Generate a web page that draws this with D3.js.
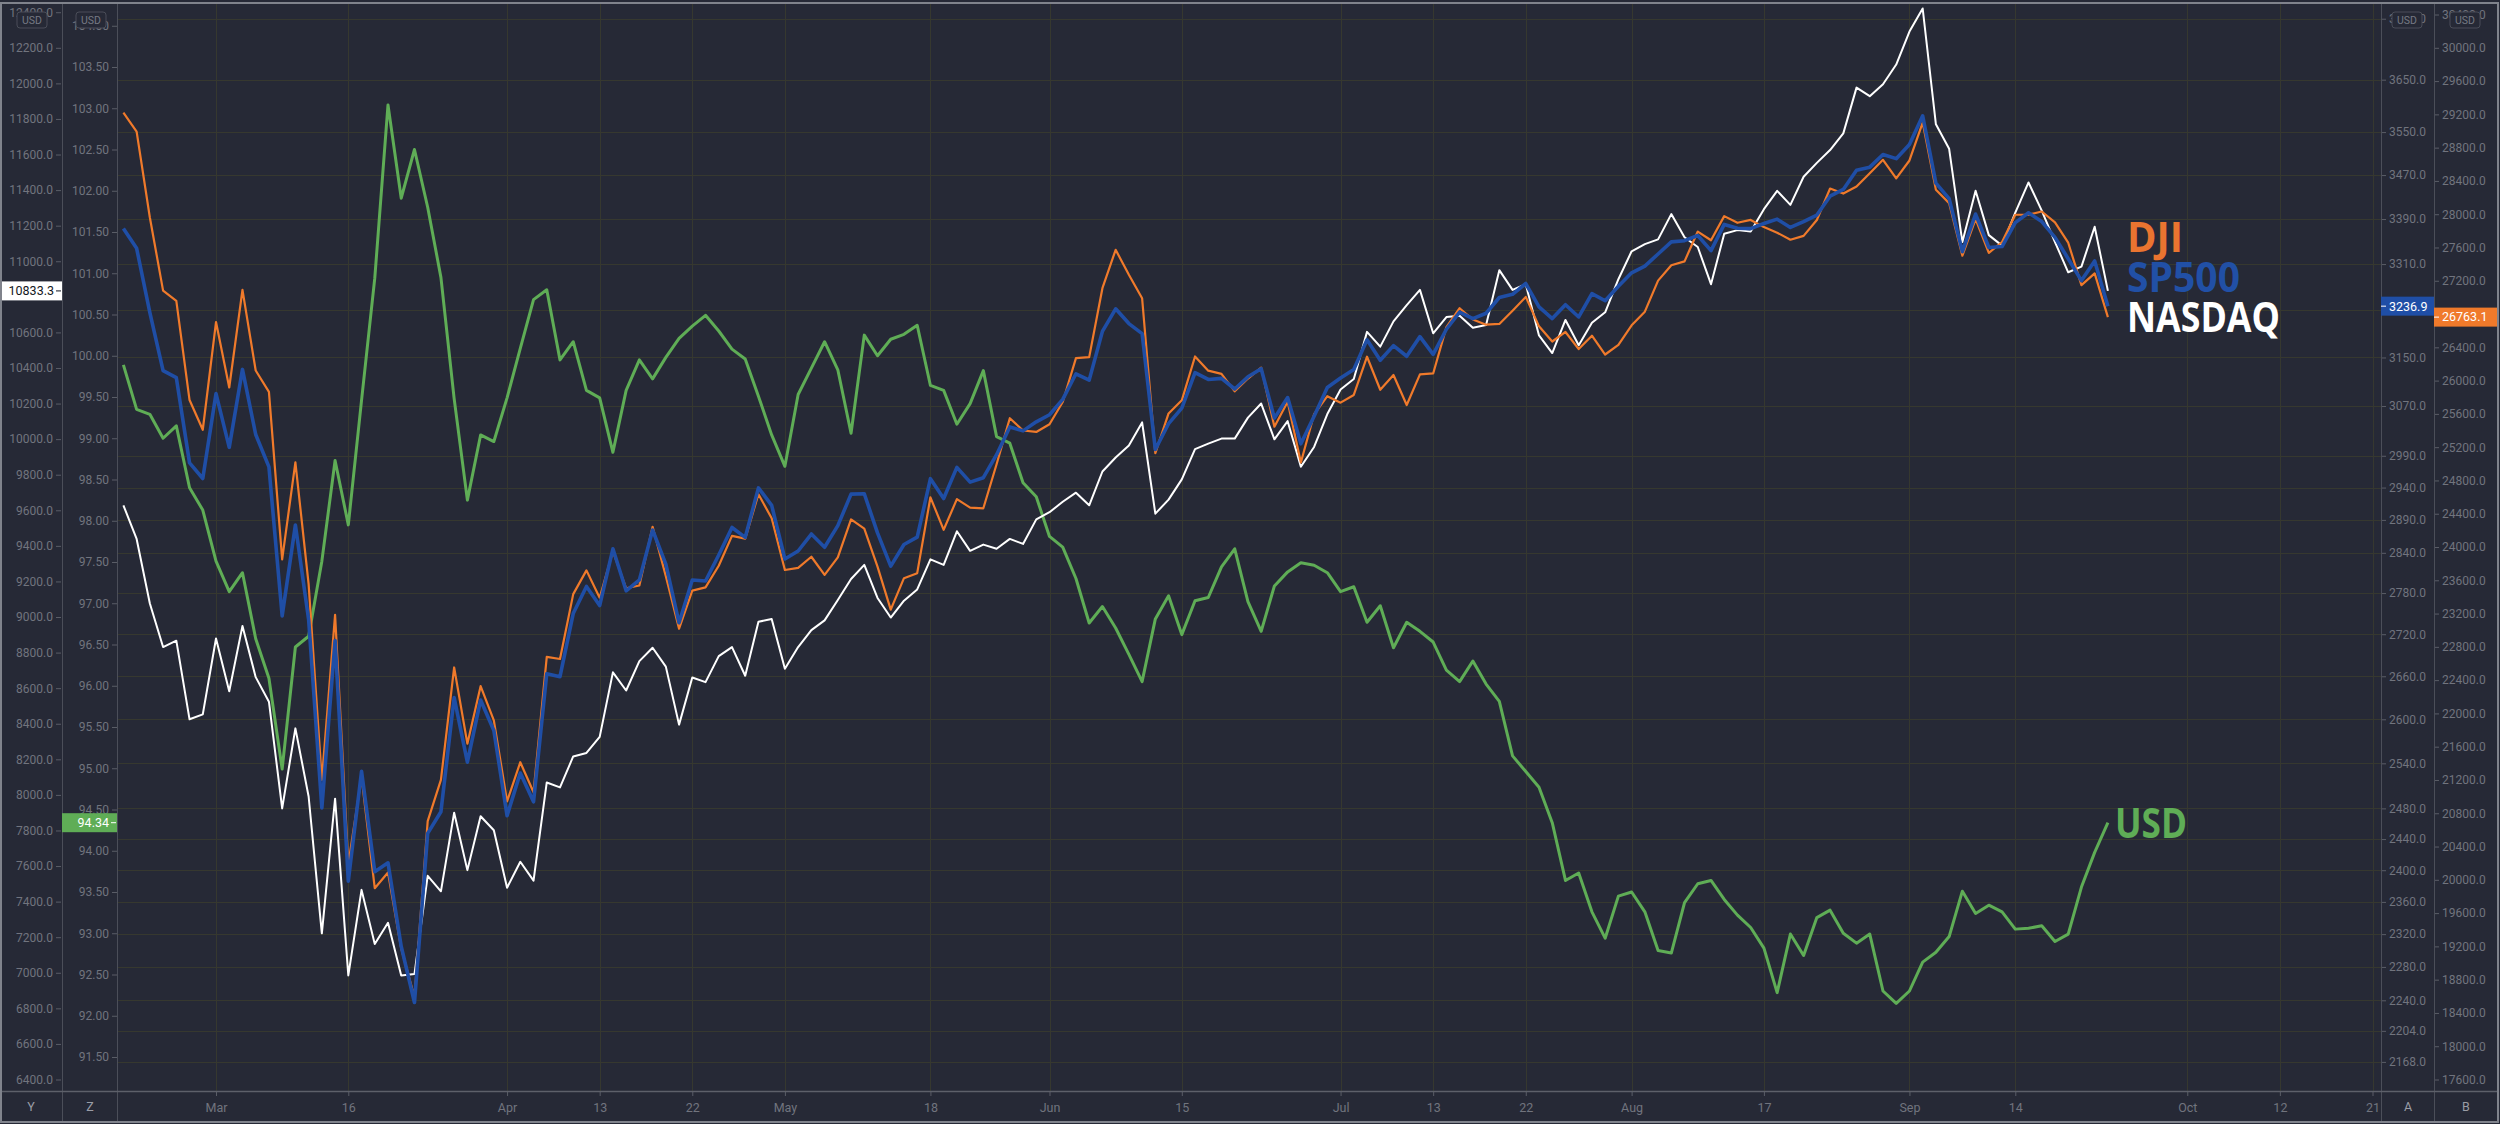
<!DOCTYPE html>
<html>
<head>
<meta charset="utf-8">
<script src="https://cdn.jsdelivr.net/npm/d3@7"></script>
<style>
  html, body { margin: 0; padding: 0; background: #262936; }
  svg { display: block; }
  .ax text { font-family: Roboto, "Liberation Sans", sans-serif; font-size: 12px; fill: #71747e; }
  .ax line { stroke: #5a5d67; }
  .ax path { display: none; }
</style>
</head>
<body>
<svg id="chart" width="2500" height="1124"></svg>
<script>
// --- data : daily closes, 20 Feb -> 23 Sep 2020 (trading days) ---
const dji = [29219.98, 28992.41, 27960.80, 27081.36, 26957.59, 25766.64, 25409.36,
  26703.32, 25917.41, 27090.86, 26121.28, 25864.78, 23851.02, 25018.16, 23553.22, 21200.62, 23185.62, 20188.52, 21237.38, 19898.92, 20087.19, 19173.98, 18591.93, 20704.91, 21200.55, 22552.17, 21636.78, 22327.48, 21917.16,
  20943.51, 21413.44, 21052.53, 22679.99, 22653.86, 23433.57, 23719.37, 23390.77, 23949.76, 23504.35, 23537.68, 24242.49, 23650.44, 23018.88, 23475.82, 23515.26, 23775.27, 24133.78, 24101.55, 24633.86, 24345.72,
  23723.69, 23749.76, 23883.09, 23664.64, 23875.89, 24331.32, 24221.99, 23764.78, 23247.97, 23625.34, 23685.42, 24597.37, 24206.86, 24575.90, 24474.12, 24465.16, 24995.11, 25548.27, 25400.64, 25383.11,
  25475.02, 25742.65, 26269.89, 26281.82, 27110.98, 27572.44, 27272.30, 26989.99, 25128.17, 25605.54, 25763.16, 26289.98, 26119.61, 26080.10, 25871.46, 26024.96, 26156.10, 25445.94, 25745.60, 25015.55, 25595.80, 25812.88,
  25734.97, 25827.36, 26287.03, 25890.18, 26067.28, 25706.09, 26075.30, 26085.80, 26642.59, 26870.10, 26734.71, 26671.95, 26680.87, 26840.40, 27005.84, 26652.33, 26469.89, 26584.77, 26379.28, 26539.57, 26313.65, 26428.32,
  26664.40, 26828.47, 27201.52, 27386.98, 27433.48, 27791.44, 27686.91, 27976.84, 27896.72, 27931.02, 27844.91, 27778.07, 27692.88, 27739.73, 27930.33, 28308.46, 28248.44, 28331.92, 28492.27, 28653.87, 28430.05,
  28645.66, 29100.50, 28292.73, 28133.31, 27500.89, 27940.47, 27534.58, 27665.64, 27993.33, 27995.60, 28032.38, 27901.98, 27657.42, 27147.70, 27288.18, 26763.13];

const sp500 = [3373.23, 3337.75, 3225.89, 3128.21, 3116.39, 2978.76, 2954.22,
  3090.23, 3003.37, 3130.12, 3023.94, 2972.37, 2746.56, 2882.23, 2741.38, 2480.64, 2711.02, 2386.13, 2529.19, 2398.10, 2409.39, 2304.92, 2237.40, 2447.33, 2475.56, 2630.07, 2541.47, 2626.65, 2584.59,
  2470.50, 2526.90, 2488.65, 2663.68, 2659.41, 2749.98, 2789.82, 2761.63, 2846.06, 2783.36, 2799.55, 2874.56, 2823.16, 2736.56, 2799.31, 2797.80, 2836.74, 2878.48, 2863.39, 2939.51, 2912.43,
  2830.71, 2842.74, 2868.44, 2848.42, 2881.19, 2929.80, 2930.32, 2870.12, 2820.00, 2852.50, 2863.70, 2953.91, 2922.94, 2971.61, 2948.51, 2955.45, 2991.77, 3036.13, 3029.73, 3044.31,
  3055.73, 3080.82, 3122.87, 3112.35, 3193.93, 3232.39, 3207.18, 3190.14, 2999.98, 3041.31, 3066.59, 3124.74, 3113.49, 3115.34, 3097.74, 3117.86, 3131.29, 3050.33, 3083.76, 3009.05, 3053.24, 3100.29,
  3115.86, 3130.01, 3179.72, 3145.32, 3169.94, 3152.05, 3185.04, 3155.22, 3197.52, 3226.56, 3215.57, 3224.73, 3251.84, 3257.30, 3276.02, 3235.66, 3215.63, 3239.41, 3218.44, 3258.44, 3246.22, 3271.12,
  3294.61, 3306.51, 3327.77, 3349.16, 3351.28, 3360.47, 3333.69, 3380.35, 3373.43, 3372.85, 3381.99, 3389.78, 3374.85, 3385.51, 3397.16, 3431.28, 3443.62, 3478.73, 3484.55, 3508.01, 3500.31,
  3526.65, 3580.84, 3455.06, 3426.96, 3331.84, 3398.96, 3339.19, 3340.97, 3383.54, 3401.20, 3385.49, 3357.01, 3319.47, 3281.06, 3315.57, 3236.92];

const nasdaq = [9628, 9439, 9076, 8831, 8867, 8425, 8453,
  8879, 8583, 8950, 8662, 8524, 7924, 8374, 7991, 7222, 7979, 6985, 7466, 7162, 7281, 6985, 6993, 7545, 7458, 7900, 7577, 7880, 7801,
  7478, 7624, 7518, 8070, 8042, 8216, 8236, 8326, 8689, 8587, 8752, 8827, 8721, 8395, 8660, 8634, 8780, 8831, 8670, 8973, 8989,
  8709, 8831, 8926, 8981, 9096, 9214, 9293, 9107, 8997, 9092, 9155, 9324, 9293, 9482, 9372, 9407, 9384, 9439, 9411, 9549,
  9589, 9648, 9699, 9628, 9818, 9897, 9964, 10094, 9581, 9660, 9774, 9944, 9975, 10003, 10003, 10121, 10200, 9999, 10101, 9845, 9956, 10141,
  10279, 10338, 10603, 10520, 10662, 10753, 10839, 10595, 10686, 10693, 10626, 10642, 10950, 10839, 10871, 10583, 10484, 10670, 10528, 10654, 10713, 10899,
  11056, 11096, 11123, 11265, 11135, 11080, 10871, 11155, 11175, 11167, 11293, 11396, 11317, 11475, 11553, 11625, 11719, 11976, 11928, 11995, 12106,
  12291, 12421, 11770, 11632, 11108, 11396, 11147, 11088, 11273, 11443, 11285, 11108, 10938, 10970, 11194, 10833.3];

const usd = [99.89, 99.35, 99.29, 99.00, 99.15, 98.40, 98.13,
  97.51, 97.14, 97.37, 96.57, 96.09, 94.99, 96.47, 96.60, 97.51, 98.73, 97.95, 99.46, 100.94, 103.04, 101.91, 102.50, 101.80, 100.95, 99.48, 98.25, 99.04, 98.96,
  99.49, 100.09, 100.68, 100.80, 99.95, 100.17, 99.58, 99.49, 98.83, 99.58, 99.95, 99.72, 99.98, 100.21, 100.36, 100.49, 100.30, 100.08, 99.96, 99.51, 99.04,
  98.66, 99.53, 99.85, 100.17, 99.83, 99.06, 100.25, 100.00, 100.20, 100.26, 100.37, 99.64, 99.58, 99.17, 99.42, 99.82, 99.02, 98.94, 98.46, 98.29,
  97.81, 97.68, 97.30, 96.76, 96.96, 96.70, 96.38, 96.05, 96.81, 97.09, 96.62, 97.03, 97.07, 97.44, 97.66, 97.02, 96.66, 97.21, 97.38, 97.49, 97.46, 97.37,
  97.14, 97.20, 96.77, 96.97, 96.46, 96.77, 96.66, 96.53, 96.19, 96.05, 96.30, 96.02, 95.81, 95.15, 94.96, 94.77, 94.34, 93.64, 93.73, 93.26, 92.94, 93.45,
  93.50, 93.26, 92.79, 92.76, 93.37, 93.60, 93.64, 93.41, 93.22, 93.07, 92.82, 92.28, 92.99, 92.73, 93.19, 93.28, 93.00, 92.88, 92.99, 92.30, 92.15,
  92.30, 92.65, 92.77, 92.96, 93.51, 93.24, 93.34, 93.26, 93.05, 93.06, 93.09, 92.90, 92.99, 93.56, 93.98, 94.34];

// tick labels
const nasdaqTicks = [6400, 6600, 6800, 7000, 7200, 7400, 7600, 7800, 8000, 8200, 8400, 8600, 8800, 9000, 9200, 9400, 9600, 9800,
  10000, 10200, 10400, 10600, 10800, 11000, 11200, 11400, 11600, 11800, 12000, 12200, 12400];
const usdTicks = [91.5, 92, 92.5, 93, 93.5, 94, 94.5, 95, 95.5, 96, 96.5, 97, 97.5, 98, 98.5, 99, 99.5, 100, 100.5, 101, 101.5,
  102, 102.5, 103, 103.5, 104];
const spTicks = [2168, 2204, 2240, 2280, 2320, 2360, 2400, 2440, 2480, 2540, 2600, 2660, 2720, 2780, 2840, 2890, 2940, 2990,
  3070, 3150, 3230, 3310, 3390, 3470, 3550, 3650, 3770];
const djiTicks = [17600, 18000, 18400, 18800, 19200, 19600, 20000, 20400, 20800, 21200, 21600, 22000, 22400, 22800, 23200, 23600,
  24000, 24400, 24800, 25200, 25600, 26000, 26400, 26800, 27200, 27600, 28000, 28400, 28800, 29200, 29600, 30000, 30400];
const timeTicks = [['Mar', '2020-03-02'], ['16', '2020-03-16'], ['Apr', '2020-04-01'], ['13', '2020-04-13'], ['22', '2020-04-22'],
  ['May', '2020-05-01'], ['18', '2020-05-18'], ['Jun', '2020-06-01'], ['15', '2020-06-15'], ['Jul', '2020-07-01'], ['13', '2020-07-13'],
  ['22', '2020-07-22'], ['Aug', '2020-08-03'], ['17', '2020-08-17'], ['Sep', '2020-09-01'], ['14', '2020-09-14'], ['Oct', '2020-10-01'],
  ['12', '2020-10-12'], ['21', '2020-10-21']];
const holidays = ['2020-04-10', '2020-05-25', '2020-07-03', '2020-09-07'];

// --- layout ---
const W = 2500, H = 1124;
const bg = '#262936';
const plot = { left: 117, right: 2381, top: 4, bottom: 1091 };

// trading sessions (weekdays without market holidays) up to the last tick
const fmt = d3.timeFormat('%Y-%m-%d');
const sessions = d3.timeDays(new Date(2020, 1, 20), new Date(2020, 9, 22))
  .filter(d => d.getDay() > 0 && d.getDay() < 6)
  .map(fmt)
  .filter(s => !holidays.includes(s));
const dates = sessions.slice(0, dji.length);

const x = d3.scalePoint().domain(sessions).range([123.4, 2372.5]);
const yNasdaq = d3.scaleLinear().domain([12200, 6400]).range([47.8, 1079.5]);
const yUsd = d3.scaleLinear().domain([103.5, 91.5]).range([67, 1057]);
const ySp = d3.scaleLog().domain([3650, 2168]).range([79.7, 1061.9]);
const yDji = d3.scaleLinear().domain([30000, 17600]).range([47.8, 1079.5]);

const last = arr => arr[arr.length - 1];
// labels that sit completely under the last-value marker are not drawn (grid stays)
const visible = (ticks, y, v) => ticks.filter(t => Math.abs(y(t) - y(v)) > 7);

const svg = d3.select('#chart');
svg.append('rect').attr('width', W).attr('height', H).attr('fill', bg);

svg.append('clipPath').attr('id', 'clip')
  .append('rect').attr('x', plot.left).attr('y', plot.top)
  .attr('width', plot.right - plot.left).attr('height', plot.bottom - plot.top);

// grid
const grid = svg.append('g').attr('clip-path', 'url(#clip)');
grid.selectAll('line.h').data(spTicks).join('line')
  .attr('x1', plot.left).attr('x2', plot.right)
  .attr('y1', d => Math.round(ySp(d)) + 0.5).attr('y2', d => Math.round(ySp(d)) + 0.5)
  .attr('stroke', '#36382f').attr('stroke-width', 1);
grid.selectAll('line.v').data(timeTicks).join('line')
  .attr('x1', d => Math.round(x(d[1])) + 0.5).attr('x2', d => Math.round(x(d[1])) + 0.5)
  .attr('y1', plot.top).attr('y2', plot.bottom)
  .attr('stroke', '#36382f').attr('stroke-width', 1);

// series
const series = [
  { name: 'USD', values: usd, y: yUsd, color: '#5fad56', width: 3 },
  { name: 'NASDAQ', values: nasdaq, y: yNasdaq, color: '#ffffff', width: 2 },
  { name: 'DJI', values: dji, y: yDji, color: '#f07a2b', width: 2.2 },
  { name: 'SP500', values: sp500, y: ySp, color: '#1f4ea6', width: 3.6 }
];

svg.append('g').attr('clip-path', 'url(#clip)')
  .selectAll('path').data(series).join('path')
  .attr('fill', 'none')
  .attr('stroke', s => s.color)
  .attr('stroke-width', s => s.width)
  .attr('stroke-linejoin', 'round')
  .attr('d', s => d3.line().x((v, i) => x(dates[i])).y(v => s.y(v))(s.values));

// legend labels next to the line ends
const legend = [
  { text: 'DJI', color: '#ea7430', x: 2127, y: 252, len: 56 },
  { text: 'SP500', color: '#2150a6', x: 2127, y: 292, len: 113 },
  { text: 'NASDAQ', color: '#ffffff', x: 2127, y: 332, len: 153 },
  { text: 'USD', color: '#5fad56', x: 2115, y: 838, len: 72 }
];
svg.append('g').selectAll('text').data(legend).join('text')
  .attr('x', d => d.x).attr('y', d => d.y)
  .attr('textLength', d => d.len).attr('lengthAdjust', 'spacingAndGlyphs')
  .attr('fill', d => d.color)
  .style('font-family', '"Open Sans", "Noto Sans", sans-serif')
  .style('font-weight', 700).style('font-size', '41px')
  .text(d => d.text);

// price axes
svg.append('g').attr('class', 'ax').attr('transform', 'translate(61,0)')
  .call(d3.axisLeft(yNasdaq).tickValues(visible(nasdaqTicks, yNasdaq, last(nasdaq)))
    .tickFormat(d3.format('.1f')).tickSize(5).tickPadding(3));
svg.append('g').attr('class', 'ax').attr('transform', 'translate(117,0)')
  .call(d3.axisLeft(yUsd).tickValues(visible(usdTicks, yUsd, last(usd)))
    .tickFormat(d3.format('.2f')).tickSize(5).tickPadding(3));
svg.append('g').attr('class', 'ax').attr('transform', 'translate(2381,0)')
  .call(d3.axisRight(ySp).tickValues(visible(spTicks, ySp, last(sp500)))
    .tickFormat(d3.format('.1f')).tickSize(5).tickPadding(3));
svg.append('g').attr('class', 'ax').attr('transform', 'translate(2434,0)')
  .call(d3.axisRight(yDji).tickValues(visible(djiTicks, yDji, last(dji)))
    .tickFormat(d3.format('.1f')).tickSize(5).tickPadding(3));

// time axis
const tickLabel = new Map(timeTicks.map(d => [d[1], d[0]]));
svg.append('g').attr('class', 'ax').attr('transform', `translate(0,${plot.bottom})`)
  .call(d3.axisBottom(x).tickValues(timeTicks.map(d => d[1])).tickFormat(d => tickLabel.get(d)).tickSize(5).tickPadding(7))
  .selectAll('text').style('font-size', '12.5px');

// separators
const sep = svg.append('g').attr('stroke', '#4b4e59').attr('stroke-width', 1);
[62, 117, 2381, 2434].forEach(v => {
  sep.append('line').attr('x1', v + 0.5).attr('x2', v + 0.5).attr('y1', 3).attr('y2', H - 2);
});
sep.append('line').attr('x1', 1).attr('x2', W - 2).attr('y1', plot.bottom + 0.5).attr('y2', plot.bottom + 0.5)
  .attr('stroke', '#5d606a').attr('stroke-width', 1.5);

// last value markers
const markers = [
  { v: last(nasdaq), y: yNasdaq, x0: 1, x1: 62, fill: '#ffffff', ink: '#131722', f: '.1f', side: 'left' },
  { v: last(usd), y: yUsd, x0: 62, x1: 117, fill: '#5fad56', ink: '#ffffff', f: '.2f', side: 'left' },
  { v: last(sp500), y: ySp, x0: 2381, x1: 2434, fill: '#1f4ea6', ink: '#ffffff', f: '.1f', side: 'right' },
  { v: last(dji), y: yDji, x0: 2434, x1: 2497, fill: '#f07a2b', ink: '#ffffff', f: '.1f', side: 'right' }
];
const mk = svg.append('g').selectAll('g').data(markers).join('g')
  .attr('transform', d => `translate(0,${d.y(d.v)})`);
mk.append('rect')
  .attr('x', d => d.x0).attr('y', -9.5).attr('width', d => d.x1 - d.x0).attr('height', 19)
  .attr('fill', d => d.fill);
mk.append('line')
  .attr('x1', d => d.side === 'left' ? d.x1 - 6 : d.x0)
  .attr('x2', d => d.side === 'left' ? d.x1 - 1 : d.x0 + 5)
  .attr('stroke', d => d.ink).attr('stroke-width', 1);
mk.append('text')
  .attr('x', d => d.side === 'left' ? d.x1 - 8 : d.x0 + 8)
  .attr('dy', '0.35em')
  .attr('text-anchor', d => d.side === 'left' ? 'end' : 'start')
  .attr('fill', d => d.ink)
  .style('font-family', 'Roboto, "Liberation Sans", sans-serif').style('font-size', '12.5px')
  .text(d => d3.format(d.f)(d.v));

// currency badges at the top of each price scale
const badges = [32, 91, 2407, 2465];
const bd = svg.append('g').selectAll('g').data(badges).join('g')
  .attr('transform', d => `translate(${d},20)`);
bd.append('rect').attr('x', -15).attr('y', -8).attr('width', 30).attr('height', 16).attr('rx', 3)
  .attr('fill', bg).attr('stroke', '#4a4d58');
bd.append('text').attr('text-anchor', 'middle').attr('dy', '0.35em')
  .attr('fill', '#767984')
  .style('font-family', 'Roboto, sans-serif').style('font-size', '10.5px')
  .text('USD');

// scale ids in the bottom row
const ids = [['Y', 31], ['Z', 90], ['A', 2408], ['B', 2466]];
svg.append('g').selectAll('text').data(ids).join('text')
  .attr('x', d => d[1]).attr('y', 1107).attr('dy', '0.35em').attr('text-anchor', 'middle')
  .attr('fill', '#9a9da6')
  .style('font-family', 'Roboto, sans-serif').style('font-size', '12.5px')
  .text(d => d[0]);

// outer frame
svg.append('rect').attr('x', 1).attr('y', 3).attr('width', W - 3).attr('height', H - 5)
  .attr('fill', 'none').attr('stroke', '#80838c').attr('stroke-width', 2);
</script>
</body>
</html>
